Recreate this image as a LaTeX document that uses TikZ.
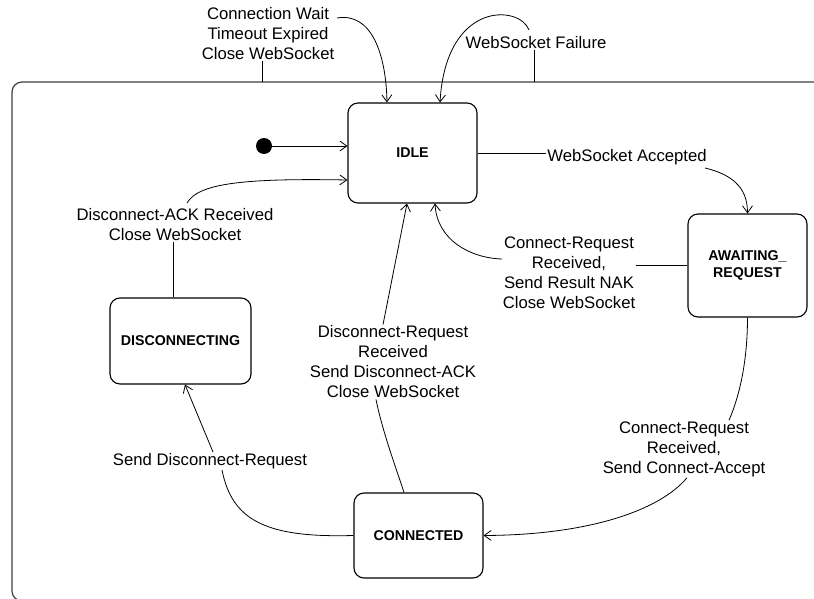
\documentclass[tikz,border=0pt]{standalone}
\usepackage{fontspec}
\setmainfont{Liberation Sans}
\usetikzlibrary{arrows.meta}

\begin{document}
\begin{tikzpicture}[x=1pt, y=-1pt,
  line/.style={line width=0.8pt, black},
  arr/.style={line, -{Straight Barb[length=7pt,width=10pt,line width=0.8pt]}},
  state/.style={draw, line width=1.1pt, rounded corners=10pt, align=center,
    inner sep=0pt, font=\fontsize{14.2pt}{16.5pt}\selectfont\bfseries},
  lbl/.style={align=center, inner sep=1pt,
    font=\fontsize{16.7pt}{20pt}\selectfont},
  outerbox/.style={draw=black!75, line width=1.2pt, rounded corners=10pt}]

  \useasboundingbox (0,0) rectangle (814,599);
  \clip (0,0) rectangle (814,599);

  % enclosing composite state
  \draw[outerbox] (12,82) rectangle (830,601);
  \coordinate (top1) at (262,82);
  \coordinate (top2) at (534,82);

  % states
  \node[state, minimum width=129pt, minimum height=100pt] (idle) at (412.5,153) {IDLE};
  \node[state, minimum width=119pt, minimum height=103pt] (await) at (747.5,265.5) {AWAITING\_\\REQUEST};
  \node[state, minimum width=141pt, minimum height=86pt] (disc) at (180.5,341) {DISCONNECTING};
  \node[state, minimum width=129pt, minimum height=85pt] (conn) at (418.5,535.5) {CONNECTED};
  \node[circle, fill=black, inner sep=0pt, minimum size=16pt] (init) at (264,146) {};

  % transition labels
  \node[lbl] (l1) at (268,34) {Connection Wait\\Timeout Expired\\Close WebSocket};
  \node[lbl] (l2) at (536,43) {WebSocket Failure};
  \node[lbl] (l3) at (627,157) {WebSocket Accepted};
  \node[lbl] (l4) at (569,273) {Connect-Request\\Received,\\Send Result NAK\\Close WebSocket};
  \node[lbl] (l5) at (175,225) {Disconnect-ACK Received\\Close WebSocket};
  \node[lbl] (l6) at (393,362) {Disconnect-Request\\Received\\Send Disconnect-ACK\\Close WebSocket};
  \node[lbl] (l7) at (210,461) {Send Disconnect-Request};
  \node[lbl] (l8) at (684,449) {Connect-Request\\Received,\\Send Connect-Accept};

  % points where connectors leave their labels
  \coordinate (l1out) at (337,18);
  \coordinate (l2out) at (529,30);
  \coordinate (l3out) at (705,168);
  \coordinate (l4out) at (502,259);
  \coordinate (l5out) at (187,203);

  % initial transition
  \draw[arr] (init) -- (init -| idle.west);

  % timeout on the composite state
  \draw[line] (top1) -- (top1 |- l1.south);
  \draw[arr] (l1out) .. controls (372,12) and (386,55) .. ([xshift=-25.5pt]idle.north);

  % websocket failure on the composite state
  \draw[line] (top2) -- (top2 |- l2.south);
  \draw[arr] (l2out) .. controls (520,5) and (446,0) .. ([xshift=27.5pt]idle.north);

  % IDLE -> AWAITING_REQUEST
  \draw[line] (idle.east) -- (idle.east -| l3.west);
  \draw[arr] (l3out) .. controls (730,174) and (747.5,186) .. (await.north);

  % AWAITING_REQUEST -> IDLE
  \draw[line] (await.west) -- (await.west -| l4.east);
  \draw[arr] (l4out) .. controls (470,258) and (437,240) .. ([xshift=22.5pt]idle.south);

  % AWAITING_REQUEST -> CONNECTED
  \draw[line] (await.south) .. controls (747.5,360) and (740,395) .. ([xshift=45pt]l8.north);
  \draw[arr] ([xshift=3pt]l8.south) .. controls (660,510) and (590,535) .. (conn.east);

  % CONNECTED -> IDLE
  \draw[line] ([xshift=-14.5pt]conn.north) .. controls (396,468) and (382,430) .. ([xshift=-17pt]l6.south);
  \draw[arr] ([xshift=-10pt]l6.north) -- ([xshift=-5.5pt]idle.south);

  % CONNECTED -> DISCONNECTING
  \draw[line] (conn.west) .. controls (265,538) and (232,520) .. ([xshift=12pt]l7.south);
  \draw[arr] ([xshift=3pt]l7.north) -- ([xshift=4.5pt]disc.south);

  % DISCONNECTING -> IDLE
  \draw[line] ([xshift=-7.5pt]disc.north) -- ([xshift=-7.5pt]disc.north |- l5.south);
  \draw[arr] (l5out) .. controls (198,184) and (240,178) .. ([yshift=-27pt]idle.west);
\end{tikzpicture}
\end{document}
